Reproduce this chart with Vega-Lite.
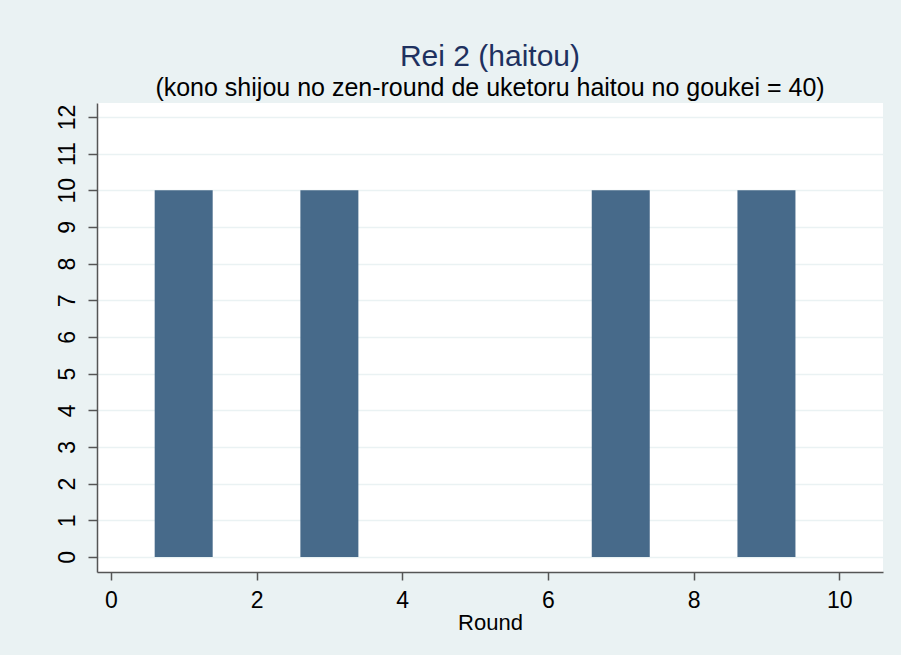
{
  "$schema": "https://vega.github.io/schema/vega-lite/v6.json",
  "autosize": {"type": "none"},
  "width": 786,
  "height": 469,
  "padding": {"left": 97, "top": 103, "right": 18, "bottom": 83},
  "background": "#EAF2F3",
  "title": {
    "text": "Rei 2 (haitou)",
    "subtitle": "(kono shijou no zen-round de uketoru haitou no goukei = 40)",
    "anchor": "middle",
    "font": "Liberation Sans",
    "fontSize": 30,
    "fontWeight": "normal",
    "color": "#1E3160",
    "subtitleFont": "Liberation Sans",
    "subtitleFontSize": 25,
    "subtitleColor": "#000000",
    "subtitlePadding": 4,
    "offset": 2
  },
  "config": {
    "view": {"stroke": null, "fill": "#FFFFFF"},
    "axis": {
      "labelFont": "Liberation Sans",
      "titleFont": "Liberation Sans",
      "labelFontSize": 23,
      "titleFontSize": 22,
      "titleFontWeight": "normal",
      "labelColor": "#000000",
      "titleColor": "#000000",
      "domainColor": "#555555",
      "tickColor": "#555555",
      "domainWidth": 1.5,
      "tickWidth": 1.5
    }
  },
  "data": {
    "values": [
      {"round": 1, "haitou": 10},
      {"round": 2, "haitou": 0},
      {"round": 3, "haitou": 10},
      {"round": 4, "haitou": 0},
      {"round": 5, "haitou": 0},
      {"round": 6, "haitou": 0},
      {"round": 7, "haitou": 10},
      {"round": 8, "haitou": 0},
      {"round": 9, "haitou": 10},
      {"round": 10, "haitou": 0}
    ]
  },
  "mark": {"type": "bar", "width": 58, "color": "#476A8A", "stroke": null},
  "encoding": {
    "x": {
      "field": "round",
      "type": "quantitative",
      "title": "Round",
      "scale": {"domain": [-0.19, 10.6], "nice": false, "zero": false, "padding": 0},
      "axis": {
        "values": [0, 2, 4, 6, 8, 10],
        "grid": false,
        "tickSize": 8,
        "labelPadding": 9,
        "titlePadding": 0
      }
    },
    "y": {
      "field": "haitou",
      "type": "quantitative",
      "title": null,
      "scale": {"domain": [-0.41, 12.38], "nice": false, "zero": false, "padding": 0},
      "axis": {
        "values": [0, 1, 2, 3, 4, 5, 6, 7, 8, 9, 10, 11, 12],
        "labelAngle": -90,
        "labelAlign": "center",
        "labelBaseline": "bottom",
        "tickSize": 9,
        "labelPadding": 9,
        "grid": true,
        "gridColor": "#EAF2F3",
        "gridWidth": 1.5
      }
    }
  }
}
